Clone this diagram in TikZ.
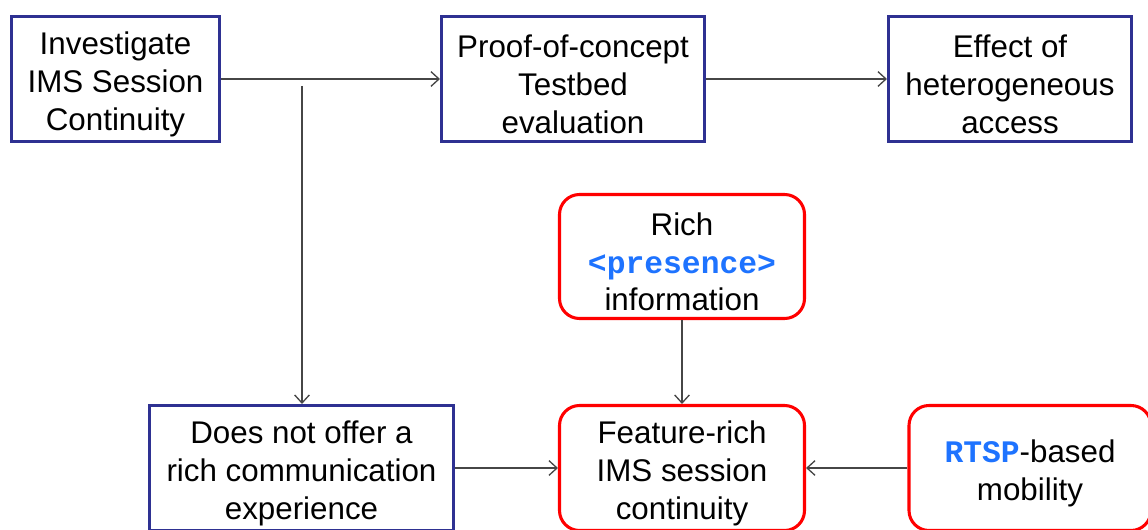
\documentclass[tikz,border=0pt]{standalone}
\usepackage{fontspec}
\setmainfont{Liberation Sans}
\setmonofont{Liberation Mono}
\usetikzlibrary{arrows.meta}

\definecolor{boxnavy}{RGB}{46,49,146}
\definecolor{boxred}{RGB}{255,0,0}
\definecolor{codeblue}{RGB}{30,115,255}
\definecolor{linegray}{RGB}{70,70,70}

\newcommand{\codeword}[1]{{\ttfamily\bfseries\color{codeblue}#1}}
\newcommand{\toppad}{\rule{0pt}{25pt}}

\tikzset{every picture/.style={line width=0.75pt}}
\tikzset{
  stagebox/.style={draw=boxnavy, line width=2.3pt, fill=white, align=center,
    inner sep=0pt, minimum height=93.75pt,
    font=\fontsize{23.5}{28.2}\selectfont},
  featurebox/.style={stagebox, draw=boxred, rounded corners=15pt},
  flow/.style={draw=linegray, line width=1pt,
    -{Straight Barb[length=6pt,width=11pt]}}
}

\begin{document}
\begin{tikzpicture}[x=0.75pt,y=0.75pt,yscale=-1,xscale=1]
\useasboundingbox (0,0) rectangle (1148,530);
\clip (0,0) rectangle (1148,530);

% top row
\node [stagebox, minimum width=156pt] (invest) at (115.5,79) {\toppad Investigate\\IMS Session\\Continuity};
\node [stagebox, minimum width=197.25pt] (proof) at (573,79) {\toppad Proof-of-concept\\Testbed\\evaluation};
\node [stagebox, minimum width=182.25pt] (hetero) at (1010,79) {\toppad Effect of\\heterogeneous\\access};

% middle
\node [featurebox, minimum width=183.75pt, minimum height=93pt] (presence) at (682,256.5) {\toppad Rich\\\codeword{<presence>}\\information};

% bottom row
\node [stagebox, minimum width=228pt] (norich) at (301.5,468) {\toppad Does not offer a\\rich communication\\experience};
\node [featurebox, minimum width=183.75pt] (feature) at (682,468) {\toppad Feature-rich\\IMS session\\continuity};
\node [featurebox, minimum width=181.5pt] (rtsp) at (1030,468) {\toppad\codeword{RTSP}-based\\mobility};

\coordinate (split) at (302,86);

% connectors
\draw [flow] (invest) -- (proof);
\draw [flow] (proof) -- (hetero);
\draw [flow] (split) -- (split |- norich.north);
\draw [flow] (presence) -- (feature);
\draw [flow] (norich) -- (feature);
\draw [flow] (rtsp) -- (feature);

\end{tikzpicture}
\end{document}
